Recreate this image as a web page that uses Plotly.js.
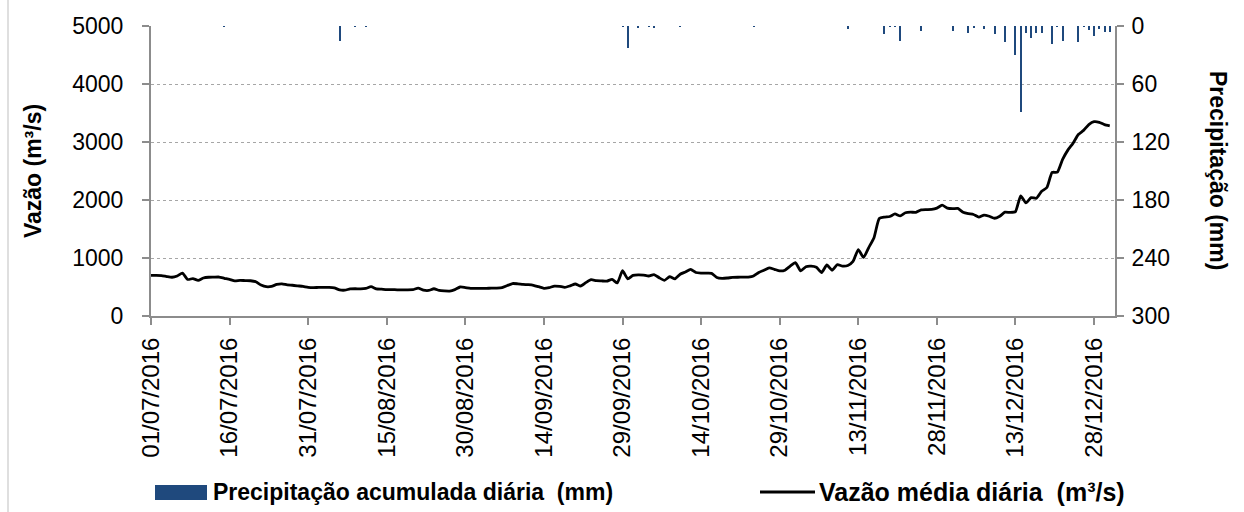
<!DOCTYPE html>
<html>
<head>
<meta charset="utf-8">
<script src="https://cdn.plot.ly/plotly-3.0.1.min.js"></script>
<style>
  html, body { margin: 0; padding: 0; background: #ffffff; }
  #chart { width: 1244px; height: 512px; }
</style>
</head>
<body>
<div id="chart"></div>
<script>
// ---- Data ----
const vazao = [
  700, 700, 695, 680, 668, 690, 740, 630, 645, 615,
  655, 668, 670, 672, 650, 630, 605, 615, 610, 608,
  590, 535, 505, 510, 545, 555, 535, 530, 520, 510,
  495, 490, 492, 493, 494, 485, 450, 445, 468, 470,
  468, 475, 505, 468, 462, 455, 455, 452, 452, 452,
  455, 480, 445, 440, 470, 440, 432, 430, 455, 500,
  490, 478, 476, 476, 477, 480, 482, 490, 525, 560,
  555, 545, 540, 530, 505, 478, 490, 515, 510, 495,
  520, 552, 517, 575, 626, 610, 605, 600, 632, 570,
  780, 640, 700, 710, 705, 690, 715, 660, 615, 678,
  640, 720, 760, 805, 750, 740, 738, 735, 665, 650,
  655, 665, 668, 670, 672, 690, 750, 790, 830, 805,
  778, 790, 860, 920, 780, 850, 860, 840, 750, 880,
  790, 885, 860, 870, 940, 1145, 1010, 1180, 1350, 1680,
  1705, 1715, 1760, 1725, 1780, 1790, 1787, 1830, 1835, 1838,
  1860, 1910, 1860, 1850, 1855, 1790, 1765, 1750, 1705, 1740,
  1720, 1685, 1720, 1790, 1785, 1800, 2070, 1950, 2040, 2030,
  2150, 2215, 2475, 2480, 2700, 2860, 2980, 3130, 3200, 3300,
  3350, 3340, 3300, 3280
];
// precipitation: day index counted from 01/07/2016, and daily total in mm
const precDays = [14, 36, 39, 41, 90, 91, 93, 95, 96, 101, 115,
  133, 140, 141, 142, 143, 147, 153, 156, 157, 159, 161, 163, 165, 166,
  167, 168, 169, 170, 172, 173, 174, 177, 178, 179, 180, 181, 182, 183];
const precMm = [1, 15, 1, 1, 1, 23, 2, 1, 2, 1, 0.6,
  3.5, 8, 1, 1.5, 16, 5, 5, 7, 2, 3, 8.5, 17, 29.5, 89,
  7, 12, 7.5, 7.5, 18.5, 1, 16, 17, 1, 4, 10.5, 3.5, 6, 6];
const leftTicks = [0, 1000, 2000, 3000, 4000, 5000];
const rightTicks = [0, 60, 120, 180, 240, 300];
const seriesNames = ['Precipitação acumulada diária  (mm)', 'Vazão média diária  (m³/s)'];
const yTitleLeft = 'Vazão (m³/s)';
const yTitleRight = 'Precipitação (mm)';

// ---- Build dates ----
function dayToDate(d) {
  const t = new Date(Date.UTC(2016, 6, 1) + d * 86400000);
  return t.toISOString().slice(0, 10);
}
const vazaoDates = vazao.map((_, i) => dayToDate(i));
const precDates = precDays.map(d => dayToDate(d));

const FONT = 'Liberation Sans, Arial, sans-serif';
const axisGray = '#8c8c8c';
const barColor = '#1F497D';

// plot-area pixel frame (for legend / title placement only)
const PL = 151, PR = 1115, PT = 26, PB = 316;
const px = v => (v - PL) / (PR - PL);
const py = v => (PB - v) / (PB - PT);

const traces = [
  {
    type: 'bar',
    name: seriesNames[0],
    x: precDates,
    y: precMm,
    yaxis: 'y2',
    marker: { color: barColor, line: { width: 0 } },
    width: 0.38 * 86400000,
    showlegend: false
  },
  {
    type: 'scatter',
    mode: 'lines',
    name: seriesNames[1],
    x: vazaoDates,
    y: vazao,
    line: { color: '#000000', width: 2.8, shape: 'spline', smoothing: 0.5 },
    showlegend: false
  }
];

const layout = {
  width: 1244,
  height: 512,
  margin: { l: PL, r: 1244 - PR, t: PT, b: 512 - PB },
  paper_bgcolor: '#ffffff',
  plot_bgcolor: '#ffffff',
  font: { family: FONT, size: 23, color: '#000000' },
  showlegend: false,
  bargap: 0,
  xaxis: {
    type: 'date',
    range: ['2016-07-01', '2017-01-01'],
    tick0: '2016-07-01',
    dtick: 15 * 86400000,
    tickformat: '%d/%m/%Y',
    tickangle: -90,
    ticks: 'outside',
    ticklen: 7,
    tickwidth: 2,
    tickcolor: axisGray,
    ticklabelstandoff: 3,
    showline: true,
    linecolor: axisGray,
    linewidth: 2,
    showgrid: false,
    zeroline: false,
    automargin: false,
    tickfont: { family: FONT, size: 24, color: '#000' }
  },
  yaxis: {
    range: [0, 5000],
    tickvals: leftTicks,
    ticktext: leftTicks.map(String),
    ticks: 'outside',
    ticklen: 7,
    tickwidth: 2,
    tickcolor: axisGray,
    ticklabelstandoff: 14,
    showline: true,
    linecolor: axisGray,
    linewidth: 2,
    showgrid: true,
    gridcolor: '#a6a6a6',
    gridwidth: 1,
    griddash: 'dot',
    zeroline: false,
    automargin: false,
    tickfont: { family: FONT, size: 23, color: '#000' },
    title: { text: '<b>' + yTitleLeft + '</b>', font: { family: FONT, size: 23, color: '#000' }, standoff: 24 }
  },
  yaxis2: {
    overlaying: 'y',
    side: 'right',
    range: [300, 0],
    tickvals: rightTicks,
    ticktext: rightTicks.map(String),
    ticks: 'outside',
    ticklen: 7,
    tickwidth: 2,
    tickcolor: axisGray,
    ticklabelstandoff: 3,
    showline: true,
    linecolor: axisGray,
    linewidth: 2,
    showgrid: false,
    zeroline: false,
    automargin: false,
    tickfont: { family: FONT, size: 23, color: '#000' }
  },
  annotations: [
    {
      text: '<b>' + yTitleRight + '</b>',
      xref: 'paper', yref: 'paper',
      x: px(1218), y: py(170),
      xanchor: 'center', yanchor: 'middle',
      textangle: 90,
      showarrow: false,
      font: { family: FONT, size: 23, color: '#000' }
    },
    {
      text: '<b>' + seriesNames[0] + '</b>',
      xref: 'paper', yref: 'paper',
      x: px(211), y: py(492),
      xanchor: 'left', yanchor: 'middle',
      showarrow: false,
      font: { family: FONT, size: 23, color: '#000' }
    },
    {
      text: '<b>' + seriesNames[1] + '</b>',
      xref: 'paper', yref: 'paper',
      x: px(817), y: py(492),
      xanchor: 'left', yanchor: 'middle',
      showarrow: false,
      font: { family: FONT, size: 25, color: '#000' }
    }
  ],
  shapes: [
    // legend swatches
    {
      type: 'rect', xref: 'paper', yref: 'paper',
      x0: px(155), x1: px(207), y0: py(500), y1: py(485),
      fillcolor: barColor, line: { width: 0 }
    },
    {
      type: 'line', xref: 'paper', yref: 'paper',
      x0: px(760), x1: px(815), y0: py(492), y1: py(492),
      line: { color: '#000000', width: 3 }
    },
    // chart border (left edge)
    {
      type: 'line', xref: 'paper', yref: 'paper',
      x0: px(8), x1: px(8), y0: py(512), y1: py(0),
      line: { color: '#bfbfbf', width: 1 }
    }
  ]
};

Plotly.newPlot('chart', traces, layout, { displayModeBar: false, staticPlot: true });
</script>
</body>
</html>
